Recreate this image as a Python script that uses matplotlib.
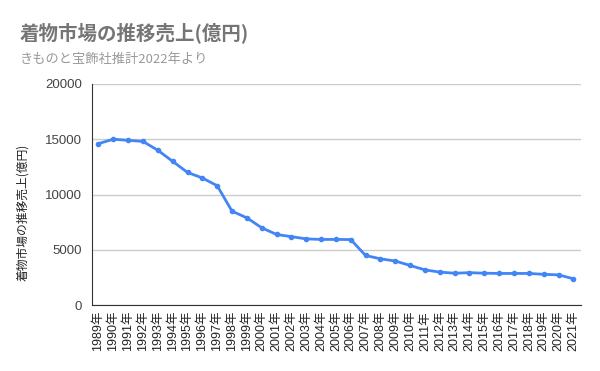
import matplotlib
matplotlib.use("Agg")
import matplotlib.pyplot as plt

plt.rcParams['font.family'] = ['Noto Sans CJK JP', 'DejaVu Sans']
tick_font = ['Liberation Sans', 'Noto Sans CJK JP']

years = [str(y) + "年" for y in range(1989, 2022)]
sales = [14600, 15000, 14900, 14800, 14000, 13000, 12000, 11500, 10800,
         8500, 7900, 7000, 6400, 6200, 6000, 5950, 5950, 5940,
         4500, 4200, 4000, 3600, 3200, 3000, 2900, 2950, 2900, 2880,
         2880, 2880, 2800, 2750, 2400]

fig = plt.figure(figsize=(6, 3.71), dpi=100)
ax = fig.add_axes([0.153, 0.177, 0.815, 0.597])

x = list(range(len(years)))
ax.plot(x, sales, color="#4285F4", linewidth=2, marker="o", markersize=3)

ax.set_ylim(0, 20000)
ax.set_xlim(-0.45, len(years) - 0.5)
ax.set_yticks([0, 5000, 10000, 15000, 20000])
ax.set_xticks(x)
ax.set_xticklabels(years, rotation=90, fontsize=9, color="#222222", family=tick_font)
for lab in ax.get_yticklabels():
    lab.set_family(tick_font)
ax.tick_params(axis="y", labelsize=9.5, colors="#444444", length=0, pad=7)
ax.tick_params(axis="x", length=0, pad=4)
ax.grid(axis="y", color="#cccccc", linewidth=1)
ax.set_axisbelow(True)
for s in ["top", "right"]:
    ax.spines[s].set_visible(False)
ax.spines["left"].set_color("#333333")
ax.spines["bottom"].set_color("#333333")

ax.set_ylabel("着物市場の推移売上(億円)", fontsize=8.5, color="#222222")
ax.yaxis.set_label_coords(-0.128, 0.42)

fig.text(0.033, 0.912, "着物市場の推移売上(億円)", fontsize=14, color="#757575",
         fontweight="bold", va="center")
fig.text(0.033, 0.84, "きものと宝飾社推計2022年より", fontsize=9.5, color="#999999",
         va="center")

fig.savefig("out.png", dpi=100)
